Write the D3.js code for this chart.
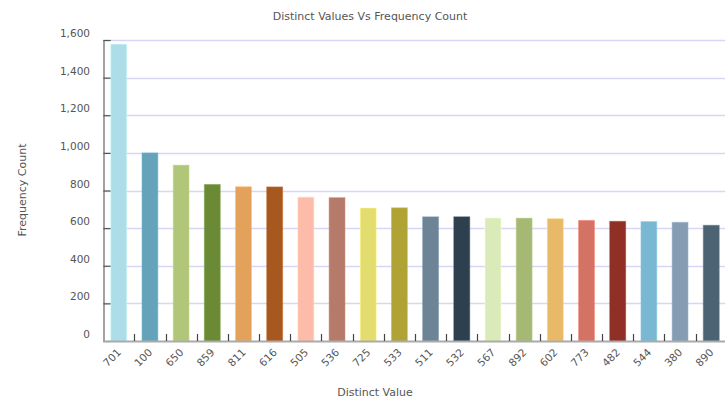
<!DOCTYPE html>
<html>
<head>
<meta charset="utf-8">
<script src="https://cdn.jsdelivr.net/npm/d3@7"></script>
<style>
  html, body { margin: 0; padding: 0; background: #fff; }
  svg { display: block; font-family: "DejaVu Sans", Verdana, sans-serif; }
</style>
</head>
<body>
<svg id="chart" width="725" height="400"></svg>
<script>
// Distinct values and how often each one occurs
const categories = ["701","100","650","859","811","616","505","536","725","533",
                    "511","532","567","892","602","773","482","544","380","890"];
const counts = [1578, 1000, 935, 832, 820, 819, 764, 762, 707, 708,
                660, 660, 654, 653, 650, 641, 636, 635, 631, 615];
const barColors = ["#acdde9","#64a3ba","#b1c678","#6b8a35","#e3a15b","#a7581f",
                   "#fdbcaa","#b57a6a","#e3dc6e","#aea334","#6c8496","#2d4050",
                   "#daeab8","#a5b874","#e8b968","#d47263","#8f2f26","#79b7d2",
                   "#869cb2","#4c6374"];
const yTicks = [0, 200, 400, 600, 800, 1000, 1200, 1400, 1600];

const svg = d3.select("#chart");
const margin = { left: 103, right: -2, top: 40, bottom: 59 };
const W = 725, H = 400;
const x0 = margin.left, x1 = W - margin.right;
const y0 = H - margin.bottom, y1 = margin.top;

const x = d3.scaleBand().domain(categories).range([x0, x1]).paddingInner(0.49).paddingOuter(0.25);
const y = d3.scaleLinear().domain([0, 1600]).range([y0, y1]);
const fmt = d3.format(",");
const textColor = "#555";

// Horizontal grid lines
svg.append("g")
  .selectAll("line")
  .data(yTicks.filter(d => d > 0))
  .join("line")
  .attr("x1", x0).attr("x2", x1)
  .attr("y1", d => Math.round(y(d)) + 0.5).attr("y2", d => Math.round(y(d)) + 0.5)
  .attr("stroke", "#d6d6f6").attr("stroke-width", 1.5);

// Bars
svg.append("g")
  .selectAll("rect")
  .data(categories.map((c, i) => ({ c, v: counts[i], col: barColors[i] })))
  .join("rect")
  .attr("x", d => x(d.c))
  .attr("width", x.bandwidth())
  .attr("y", d => y(d.v))
  .attr("height", d => y(0) - y(d.v))
  .attr("fill", d => d.col)
  .attr("stroke", d => d3.color(d.col).brighter(0.4))
  .attr("stroke-opacity", 0.5)
  .attr("stroke-width", 1);

// Y axis: ticks point into the plot
const yAxis = d3.axisRight(y).tickValues(yTicks).tickSize(7).tickFormat("");
const gy = svg.append("g").attr("transform", `translate(${x0 + 0.5},0)`).call(yAxis);
gy.select(".domain").attr("stroke", "#666").attr("stroke-width", 1.2);
gy.selectAll(".tick line").attr("stroke", "#555").attr("stroke-width", 1.2);

// Y tick labels
svg.append("g")
  .selectAll("text")
  .data(yTicks)
  .join("text")
  .attr("x", 90)
  .attr("y", d => y(d) - 3)
  .attr("text-anchor", "end")
  .attr("font-size", 10.5)
  .attr("fill", textColor)
  .text(d => fmt(d));

// X axis: ticks at band boundaries, pointing up
const gx = svg.append("g").attr("transform", `translate(0,${y0})`);
gx.append("line")
  .attr("x1", x0).attr("x2", x1).attr("y1", 0.5).attr("y2", 0.5)
  .attr("stroke", "#aaa").attr("stroke-width", 2);
gx.selectAll("line.tick")
  .data(categories.slice(1))
  .join("line")
  .attr("class", "tick")
  .attr("x1", d => Math.round(x(d) - x.step() * x.paddingInner() / 2) + 0.5)
  .attr("x2", d => Math.round(x(d) - x.step() * x.paddingInner() / 2) + 0.5)
  .attr("y1", -7).attr("y2", 0)
  .attr("stroke", "#444").attr("stroke-width", 1.2);

// X tick labels, rotated
gx.selectAll("text")
  .data(categories)
  .join("text")
  .attr("transform", d => `translate(${x(d) + x.bandwidth() / 2 + 3},${12}) rotate(-45)`)
  .attr("text-anchor", "end")
  .attr("font-size", 10.5)
  .attr("fill", textColor)
  .text(d => d);

// Titles
svg.append("text")
  .attr("x", 370).attr("y", 20)
  .attr("text-anchor", "middle")
  .attr("font-size", 11)
  .attr("fill", textColor)
  .text("Distinct Values Vs Frequency Count");

svg.append("text")
  .attr("transform", `translate(26,${190}) rotate(-90)`)
  .attr("text-anchor", "middle")
  .attr("font-size", 11)
  .attr("fill", textColor)
  .text("Frequency Count");

svg.append("text")
  .attr("x", 375).attr("y", 396)
  .attr("text-anchor", "middle")
  .attr("font-size", 11)
  .attr("fill", textColor)
  .text("Distinct Value");
</script>
</body>
</html>
